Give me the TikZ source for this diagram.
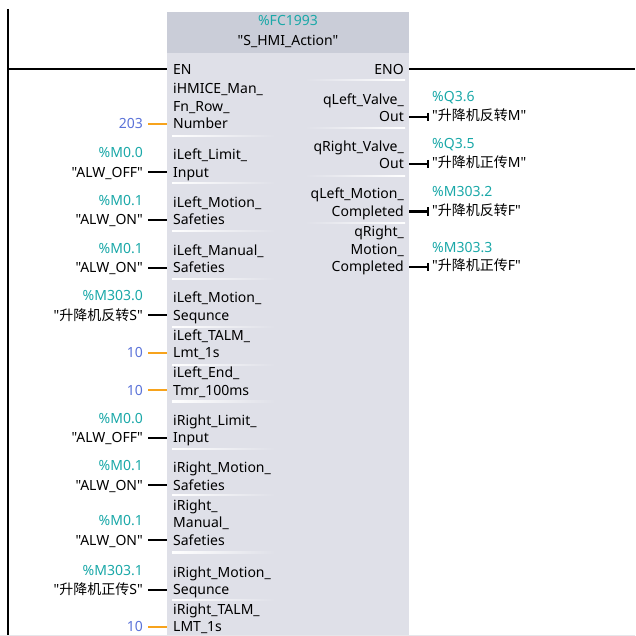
\documentclass[tikz,border=0pt]{standalone}
\usepackage{fontspec}
\setmainfont{Noto Sans}[Ligatures=TeXOff]
\newfontfamily\cjk{Noto Sans CJK SC}
\usetikzlibrary{arrows.meta}
\definecolor{blkhead}{HTML}{CACDD8}
\definecolor{blkbody}{HTML}{DFE0E8}
\definecolor{addrteal}{HTML}{1AA8A8}
\definecolor{constblue}{HTML}{5A72D8}
\definecolor{constwire}{HTML}{F7A31C}
\definecolor{edgegray}{HTML}{E6E6EA}
\newcommand{\lfont}{\fontsize{14}{17.5}\selectfont}
\tikzset{
  pinin/.style={anchor=base west, inner sep=0pt, align=left, font=\lfont},
  pinout/.style={anchor=base east, inner sep=0pt, align=right, font=\lfont},
  tagin/.style={anchor=base east, inner sep=0pt, font=\lfont},
  tagout/.style={anchor=base west, inner sep=0pt, font=\lfont},
  addrin/.style={tagin, text=addrteal},
  addrout/.style={tagout, text=addrteal},
  constin/.style={tagin, text=constblue},
  wire/.style={line width=2pt},
  cwire/.style={wire, draw=constwire},
  owire/.style={wire, -{Bar[width=8pt,line width=2pt]}},
  rail/.style={line width=2pt},
}
\begin{document}
\begin{tikzpicture}[x=1pt,y=-1pt]
\useasboundingbox (0,0) rectangle (635,636);
\fill[edgegray] (0,634.5) rectangle (635,636);
% block
\node[fill=blkbody, minimum width=242pt, minimum height=623pt, anchor=north west, inner sep=0pt] (blk) at (167,12) {};
\node[fill=blkhead, minimum width=242pt, minimum height=41pt, anchor=north west, inner sep=0pt] (hdr) at (167,12) {};
\node[text=addrteal, font=\lfont, inner sep=0pt] (fcnum) at (288,20.7) {\%FC1993};
\node[font=\lfont, inner sep=0pt] (fcname) at (288,41.7) {"S\_HMI\_Action"};
% separators
\foreach \s in {136,183,231,279,327,365,401.5,449,495,552.5,600}
  \shade[left color=white, right color=blkbody] (172,\s-0.7) rectangle (275,\s+0.7);
\foreach \s in {80,128,176,223}
  \shade[left color=blkbody, right color=white] (305,\s-0.7) rectangle (405,\s+0.7);
% rail and rung
\coordinate (railtop) at (8,9);
\coordinate (railbot) at (8,635);
\coordinate (rungL) at (8,69);
\coordinate (rungR) at (635,69);
\draw[rail] (railtop) -- (railbot);
\draw[rail] (rungL) -- (rungL -| blk.west);
\draw[rail] (rungR -| blk.east) -- (rungR);
% input pins
\node[pinin] (pEN) at (173,75) {EN};
\node[pinin] (pNum) at (173,129) {iHMICE\_Man\_\\Fn\_Row\_\\Number};
\node[pinin] (pLimL) at (173,177.5) {iLeft\_Limit\_\\Input};
\node[pinin] (pMotL) at (173,225) {iLeft\_Motion\_\\Safeties};
\node[pinin] (pManL) at (173,272.5) {iLeft\_Manual\_\\Safeties};
\node[pinin] (pSeqL) at (173,320) {iLeft\_Motion\_\\Sequnce};
\node[pinin] (pTalmL) at (173,357.5) {iLeft\_TALM\_\\Lmt\_1s};
\node[pinin] (pEndL) at (173,395) {iLeft\_End\_\\Tmr\_100ms};
\node[pinin] (pLimR) at (173,442.5) {iRight\_Limit\_\\Input};
\node[pinin] (pMotR) at (173,490) {iRight\_Motion\_\\Safeties};
\node[pinin] (pManR) at (173,545) {iRight\_\\Manual\_\\Safeties};
\node[pinin] (pSeqR) at (173,594.5) {iRight\_Motion\_\\Sequnce};
\node[pinin] (pTalmR) at (173,631.5) {iRight\_TALM\_\\LMT\_1s};
% output pins
\node[pinout] (qENO) at (404,75) {ENO};
\node[pinout] (qValL) at (404,122) {qLeft\_Valve\_\\Out};
\node[pinout] (qValR) at (404,169) {qRight\_Valve\_\\Out};
\node[pinout] (qDoneL) at (404,216.5) {qLeft\_Motion\_\\Completed};
\node[pinout] (qDoneR) at (404,271.7) {qRight\_\\Motion\_\\Completed};
% input actual parameters
\coordinate (kNum) at (167,124);
\coordinate (kLimL) at (167,172.5);
\coordinate (kMotL) at (167,220);
\coordinate (kManL) at (167,267.5);
\coordinate (kSeqL) at (167,315);
\coordinate (kTalmL) at (167,352.5);
\coordinate (kEndL) at (167,390);
\coordinate (kLimR) at (167,437.5);
\coordinate (kMotR) at (167,485);
\coordinate (kManR) at (167,540);
\coordinate (kSeqR) at (167,589.5);
\coordinate (kTalmR) at (167,626.5);
\node[constin] (cNum) at (143,129) {203};
\node[tagin] (tLimL) at (143,177.5) {"ALW\_OFF"};
\node[addrin] (aLimL) at ([yshift=19.5pt]tLimL.base east) {\%M0.0};
\node[tagin] (tMotL) at (143,225) {"ALW\_ON"};
\node[addrin] (aMotL) at ([yshift=19.5pt]tMotL.base east) {\%M0.1};
\node[tagin] (tManL) at (143,272.5) {"ALW\_ON"};
\node[addrin] (aManL) at ([yshift=19.5pt]tManL.base east) {\%M0.1};
\node[tagin] (tSeqL) at (143,320) {"{\cjk 升降机反转}S"};
\node[addrin] (aSeqL) at ([yshift=19.5pt]tSeqL.base east) {\%M303.0};
\node[constin] (cTalmL) at (143,357.5) {10};
\node[constin] (cEndL) at (143,395) {10};
\node[tagin] (tLimR) at (143,442.5) {"ALW\_OFF"};
\node[addrin] (aLimR) at ([yshift=19.5pt]tLimR.base east) {\%M0.0};
\node[tagin] (tMotR) at (143,490) {"ALW\_ON"};
\node[addrin] (aMotR) at ([yshift=19.5pt]tMotR.base east) {\%M0.1};
\node[tagin] (tManR) at (143,545) {"ALW\_ON"};
\node[addrin] (aManR) at ([yshift=19.5pt]tManR.base east) {\%M0.1};
\node[tagin] (tSeqR) at (143,594.5) {"{\cjk 升降机正传}S"};
\node[addrin] (aSeqR) at ([yshift=19.5pt]tSeqR.base east) {\%M303.1};
\node[constin] (cTalmR) at (143,631.5) {10};
\draw[cwire, shorten <=5pt] (cNum.east |- kNum) -- (kNum);
\draw[wire, shorten <=5pt] (tLimL.east |- kLimL) -- (kLimL);
\draw[wire, shorten <=5pt] (tMotL.east |- kMotL) -- (kMotL);
\draw[wire, shorten <=5pt] (tManL.east |- kManL) -- (kManL);
\draw[wire, shorten <=5pt] (tSeqL.east |- kSeqL) -- (kSeqL);
\draw[cwire, shorten <=5pt] (cTalmL.east |- kTalmL) -- (kTalmL);
\draw[cwire, shorten <=5pt] (cEndL.east |- kEndL) -- (kEndL);
\draw[wire, shorten <=5pt] (tLimR.east |- kLimR) -- (kLimR);
\draw[wire, shorten <=5pt] (tMotR.east |- kMotR) -- (kMotR);
\draw[wire, shorten <=5pt] (tManR.east |- kManR) -- (kManR);
\draw[wire, shorten <=5pt] (tSeqR.east |- kSeqR) -- (kSeqR);
\draw[cwire, shorten <=5pt] (cTalmR.east |- kTalmR) -- (kTalmR);
% output actual parameters
\coordinate (kValL) at (409,117);
\coordinate (kValR) at (409,164);
\coordinate (kDoneL) at (409,211.5);
\coordinate (kDoneR) at (409,267);
\node[tagout] (oValL) at (432,120.5) {"{\cjk 升降机反转}M"};
\node[addrout] (bValL) at ([yshift=18.5pt]oValL.base west) {\%Q3.6};
\node[tagout] (oValR) at (432,167.5) {"{\cjk 升降机正传}M"};
\node[addrout] (bValR) at ([yshift=18.5pt]oValR.base west) {\%Q3.5};
\node[tagout] (oDoneL) at (432,215) {"{\cjk 升降机反转}F"};
\node[addrout] (bDoneL) at ([yshift=18.5pt]oDoneL.base west) {\%M303.2};
\node[tagout] (oDoneR) at (432,270.5) {"{\cjk 升降机正传}F"};
\node[addrout] (bDoneR) at ([yshift=18.5pt]oDoneR.base west) {\%M303.3};
\draw[owire, shorten >=3pt] (kValL) -- (kValL -| oValL.west);
\draw[owire, shorten >=3pt] (kValR) -- (kValR -| oValR.west);
\draw[owire, shorten >=3pt] (kDoneL) -- (kDoneL -| oDoneL.west);
\draw[owire, shorten >=3pt] (kDoneR) -- (kDoneR -| oDoneR.west);
\end{tikzpicture}
\end{document}
